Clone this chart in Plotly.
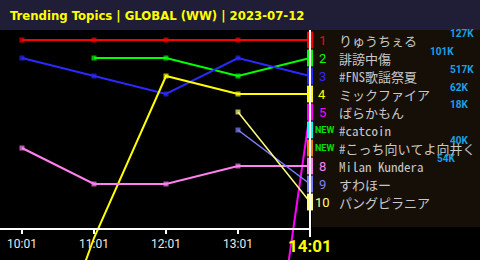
import plotly.graph_objects as go

times = ["10:01", "11:01", "12:01", "13:01", "14:01"]
rank_labels = ["1", "2", "3", "4", "5", "NEW", "NEW", "8", "9", "10"]
topics = ["りゅうちぇる", "誹謗中傷", "#FNS歌謡祭夏", "ミックファイア", "ばらかもん",
          "#catcoin", "#こっち向いてよ向井く", "Milan Kundera", "すわほー", "パングピラニア"]
colors = ["#ff0000", "#00ff00", "#2a2aff", "#ffff00", "#ff00ff",
          "#00ffff", "#ff8000", "#ff80f0", "#8080ff", "#ffff80"]
ranks = [
    [1, 1, 1, 1, 1],
    [None, 2, 2, 3, 2],
    [2, 3, 4, 2, 3],
    [23, 12, 3, 4, 4],
    [None, None, None, 33, 5],
    [None, None, None, None, 6],
    [None, None, None, None, 7],
    [7, 9, 9, 8, 8],
    [None, None, None, 6, 9],
    [None, None, None, 5, 10],
]
tweet_counts = ["127K", "101K", "517K", "62K", "18K", None, "40K", "54K", None, None]

W, H, TOP = 480, 260, 30
PX_PER_HOUR = 72
X0_PX = 22
PX_PER_RANK = 18
RANK1_PX = 40

xs = list(range(len(times)))
x_range = [-X0_PX / PX_PER_HOUR, (W - X0_PX) / PX_PER_HOUR]
y_top = 1 - (RANK1_PX - TOP) / PX_PER_RANK
y_bot = 1 + (H - RANK1_PX) / PX_PER_RANK

fig = go.Figure()
widths = [2, 2, 2, 2, 2, 2, 2, 2, 1.5, 1.5]
for i, (r, c) in enumerate(zip(ranks, colors)):
    pts = [(x, v) for x, v in zip(xs, r) if v is not None]
    if len(pts) > 1:
        fig.add_trace(go.Scatter(
            x=[p[0] for p in pts], y=[p[1] for p in pts], mode="lines+markers",
            line=dict(color=c, width=widths[i]),
            marker=dict(symbol="square", size=[5 if (v <= 10 and x < 4) else 0 for x, v in pts],
                        color=c, line=dict(width=0)),
            hoverinfo="skip", showlegend=False))
# current position markers
cur_x = [4 for r in ranks]
cur_y = [r[-1] for r in ranks]
fig.add_trace(go.Scatter(
    x=cur_x, y=cur_y, mode="markers",
    marker=dict(symbol="line-ns", size=12, line=dict(color=colors, width=6)),
    hoverinfo="skip", showlegend=False))

shapes = [
    dict(type="rect", xref="paper", yref="paper", x0=312 / W, x1=1,
         y0=(H - 227) / (H - TOP), y1=1, fillcolor="#160f08", line=dict(width=0), layer="below"),
    dict(type="line", xref="x", yref="y", x0=x_range[0], x1=4, y0=11.5, y1=11.5,
         line=dict(color="white", width=2)),
    dict(type="line", xref="x", yref="paper", x0=4, x1=4, y0=(H - 237) / (H - TOP), y1=1,
         line=dict(color="white", width=2)),
]

annotations = []
for i, (lab, name, c, r) in enumerate(zip(rank_labels, topics, colors, ranks)):
    rk = r[-1]
    if lab == "NEW":
        annotations.append(dict(x=324 / W, y=rk, xref="paper", yref="y", text="<b>NEW</b>",
                                showarrow=False, xanchor="center", yanchor="middle",
                                font=dict(family="Roboto", size=9, color="#00e000")))
    else:
        annotations.append(dict(x=322 / W, y=rk, xref="paper", yref="y", text=lab,
                                showarrow=False, xanchor="center", yanchor="middle",
                                font=dict(family="Roboto", size=13, color=c)))
    annotations.append(dict(x=337 / W, y=rk, xref="paper", yref="y", text=name,
                            showarrow=False, xanchor="left", yanchor="middle",
                            font=dict(family="Noto Sans Mono CJK JP, Noto Sans CJK JP, DejaVu Sans Mono",
                                      size=13, color="#c8c8c8")))

count_pos = [(448, 33), (428, 51), (448, 69), (448, 87), (448, 104), None, (448, 140), (435, 158), None, None]
for t, p in zip(tweet_counts, count_pos):
    if t and p:
        annotations.append(dict(x=p[0] / W, y=(H - p[1]) / (H - TOP), xref="paper", yref="paper",
                                text="<b>" + t + "</b>", showarrow=False, xanchor="left", yanchor="middle",
                                font=dict(family="Roboto", size=10, color="#1aa0e8")))

annotations.append(dict(x=4, y=1 + (246 - RANK1_PX) / PX_PER_RANK, xref="x", yref="y",
                        text="<b>" + times[-1] + "</b>", showarrow=False, xanchor="center",
                        yanchor="middle", font=dict(family="Roboto", size=17, color="#ffff00")))

fig.update_layout(
    width=W, height=H,
    margin=dict(l=0, r=0, t=TOP, b=0, pad=0),
    paper_bgcolor="#201e36", plot_bgcolor="#000000",
    title=dict(text="<b>Trending Topics | GLOBAL (WW) | 2023-07-12</b>", x=10 / W, xanchor="left",
               y=1 - 15 / H, yanchor="middle", yref="container",
               font=dict(family="DejaVu Sans Condensed", size=13, color="#ffff00")),
    xaxis=dict(range=x_range, tickvals=xs[:-1], ticktext=times[:-1], showgrid=False, zeroline=False,
               showline=False, ticks="outside", ticklen=4, tickwidth=2, tickcolor="white",
               anchor="free", position=(H - 229) / (H - TOP),
               tickfont=dict(family="Roboto", size=12, color="#e8e8e8")),
    yaxis=dict(range=[y_bot, y_top], showgrid=False, zeroline=False, showticklabels=False,
               showline=False, ticks=""),
    shapes=shapes, annotations=annotations,
)

fig.write_html("out.html")
